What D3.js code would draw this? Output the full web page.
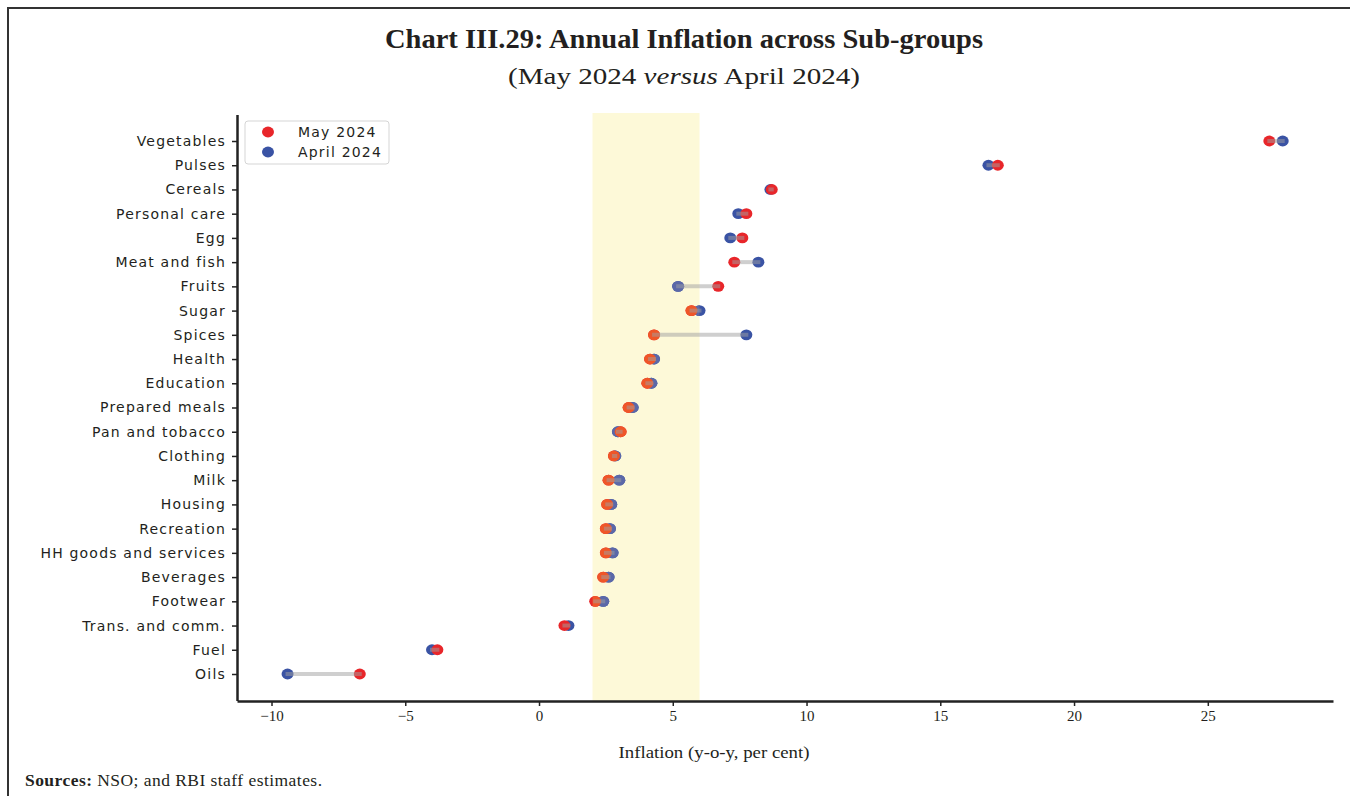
<!DOCTYPE html>
<html>
<head>
<meta charset="utf-8">
<script src="https://cdn.jsdelivr.net/npm/d3@7"></script>
<style>
  body { margin: 0; background: #fff; }
  svg { display: block; }
</style>
</head>
<body>
<svg id="chart"></svg>
<script>
// Sub-groups, top to bottom
const categories = ["Vegetables", "Pulses", "Cereals", "Personal care", "Egg", "Meat and fish",
  "Fruits", "Sugar", "Spices", "Health", "Education", "Prepared meals", "Pan and tobacco",
  "Clothing", "Milk", "Housing", "Recreation", "HH goods and services", "Beverages",
  "Footwear", "Trans. and comm.", "Fuel", "Oils"];

// Inflation, y-o-y per cent
const may2024 = [27.3, 17.15, 8.7, 7.75, 7.6, 7.3, 6.7, 5.7, 4.3, 4.15, 4.05, 3.35, 3.05,
  2.8, 2.6, 2.55, 2.5, 2.5, 2.4, 2.1, 0.95, -3.8, -6.7];
const apr2024 = [27.8, 16.8, 8.65, 7.45, 7.15, 8.2, 5.2, 6.0, 7.75, 4.3, 4.2, 3.5, 2.95,
  2.85, 3.0, 2.7, 2.65, 2.75, 2.6, 2.4, 1.1, -4.0, -9.4];

const xTicks = [-10, -5, 0, 5, 10, 15, 20, 25];
const band = [2, 6];  // shaded range

const width = 1350, height = 796;
const plot = { left: 237, right: 1333, top: 113, bottom: 701 };

const svg = d3.select("#chart")
    .attr("width", width)
    .attr("height", height);

// outer frame (top and left edges only)
svg.append("path")
    .attr("d", `M8,796 L8,8 L1350,8`)
    .attr("fill", "none")
    .attr("stroke", "#333")
    .attr("stroke-width", 2);

// Titles
svg.append("text")
    .attr("x", 684).attr("y", 48)
    .attr("text-anchor", "middle")
    .attr("font-family", "Liberation Serif, serif")
    .attr("font-weight", "bold")
    .attr("font-size", 28)
    .attr("fill", "#231f20")
    .attr("textLength", 598)
    .attr("lengthAdjust", "spacingAndGlyphs")
    .text("Chart III.29: Annual Inflation across Sub-groups");

const sub = svg.append("text")
    .attr("x", 684).attr("y", 84)
    .attr("text-anchor", "middle")
    .attr("font-family", "Liberation Serif, serif")
    .attr("font-size", 24)
    .attr("fill", "#231f20")
    .attr("textLength", 352)
    .attr("lengthAdjust", "spacingAndGlyphs");
sub.append("tspan").text("(May 2024 ");
sub.append("tspan").attr("font-style", "italic").text("versus");
sub.append("tspan").text(" April 2024)");

// Scales
const x = d3.scaleLinear()
    .domain([-11.29, 29.68])
    .range([plot.left, plot.right]);

const y = d3.scalePoint()
    .domain(categories)
    .range([114.5, 700.5])
    .padding(1.094);

const data = categories.map((c, i) => ({ cat: c, may: may2024[i], apr: apr2024[i] }));

// Shaded band
svg.append("rect")
    .attr("x", x(band[0]))
    .attr("y", plot.top)
    .attr("width", x(band[1]) - x(band[0]))
    .attr("height", plot.bottom - plot.top)
    .attr("fill", "#fdf9d8");

svg.append("clipPath")
    .attr("id", "bandClip")
  .append("rect")
    .attr("x", x(band[0]))
    .attr("y", plot.top)
    .attr("width", x(band[1]) - x(band[0]))
    .attr("height", plot.bottom - plot.top);

// Points: plain colours, then tinted copies where the band covers them
function drawDots(g, aprColor, mayColor) {
    g.selectAll(".apr")
        .data(data)
      .enter().append("ellipse")
        .attr("class", "apr")
        .attr("cx", d => x(d.apr))
        .attr("cy", d => y(d.cat))
        .attr("rx", 6).attr("ry", 5.4)
        .attr("fill", aprColor);

    g.selectAll(".may")
        .data(data)
      .enter().append("ellipse")
        .attr("class", "may")
        .attr("cx", d => x(d.may))
        .attr("cy", d => y(d.cat))
        .attr("rx", 6).attr("ry", 5.4)
        .attr("fill", mayColor);
}
drawDots(svg.append("g"), "#3a53a4", "#e8262a");
drawDots(svg.append("g").attr("clip-path", "url(#bandClip)"), "#5b68a8", "#ef5628");

// Connecting lines, drawn over the dots
svg.append("g").selectAll(".link")
    .data(data)
  .enter().append("line")
    .attr("class", "link")
    .attr("x1", d => x(d.may))
    .attr("x2", d => x(d.apr))
    .attr("y1", d => y(d.cat))
    .attr("y2", d => y(d.cat))
    .attr("stroke", "#a0a0a0")
    .attr("stroke-opacity", 0.5)
    .attr("stroke-width", 4)
    .attr("stroke-linecap", "square");

// Axes
const xAxis = svg.append("g")
    .attr("transform", `translate(0,${plot.bottom})`)
    .call(d3.axisBottom(x).tickValues(xTicks).tickSize(5).tickPadding(4).tickSizeOuter(0));
xAxis.select(".domain").attr("stroke", "#222").attr("stroke-width", 2.5);
xAxis.selectAll(".tick line").attr("stroke", "#222").attr("stroke-width", 1.5);
xAxis.selectAll(".tick text")
    .attr("font-family", "Liberation Serif, serif")
    .attr("font-size", 15)
    .attr("fill", "#231f20");

const yAxis = svg.append("g")
    .attr("transform", `translate(${plot.left},0)`)
    .call(d3.axisLeft(y).tickSize(5).tickPadding(6).tickSizeOuter(0));
yAxis.select(".domain").attr("stroke", "#222").attr("stroke-width", 2.5);
yAxis.selectAll(".tick line").attr("stroke", "#222").attr("stroke-width", 1.5);
yAxis.selectAll(".tick text")
    .attr("font-family", "DejaVu Sans, sans-serif")
    .attr("font-size", 14)
    .attr("letter-spacing", 1.2)
    .attr("fill", "#231f20");

// Axis title
svg.append("text")
    .attr("x", 714)
    .attr("y", 758)
    .attr("text-anchor", "middle")
    .attr("font-family", "Liberation Serif, serif")
    .attr("font-size", 17)
    .attr("fill", "#231f20")
    .attr("textLength", 191)
    .attr("lengthAdjust", "spacingAndGlyphs")
    .text("Inflation (y-o-y, per cent)");

// Legend
const legend = svg.append("g").attr("transform", "translate(245,121)");
legend.append("rect")
    .attr("width", 144).attr("height", 43)
    .attr("rx", 3)
    .attr("fill", "#fff")
    .attr("stroke", "#d5d5d5");
const legendItems = [{ name: "May 2024", color: "#e8262a" }, { name: "April 2024", color: "#3a53a4" }];
legendItems.forEach((d, i) => {
    legend.append("ellipse")
        .attr("cx", 23).attr("cy", 11 + i * 20)
        .attr("rx", 6).attr("ry", 5.4)
        .attr("fill", d.color);
    legend.append("text")
        .attr("x", 53).attr("y", 16 + i * 20)
        .attr("font-family", "DejaVu Sans, sans-serif")
        .attr("font-size", 14)
        .attr("letter-spacing", 1.2)
        .attr("fill", "#231f20")
        .text(d.name);
});

// Source note
const src = svg.append("text")
    .attr("x", 25).attr("y", 786)
    .attr("font-family", "Liberation Serif, serif")
    .attr("font-size", 17.5)
    .attr("fill", "#231f20")
    .attr("textLength", 297)
    .attr("lengthAdjust", "spacing");
src.append("tspan").attr("font-weight", "bold").text("Sources:");
src.append("tspan").text(" NSO; and RBI staff estimates.");
</script>
</body>
</html>
